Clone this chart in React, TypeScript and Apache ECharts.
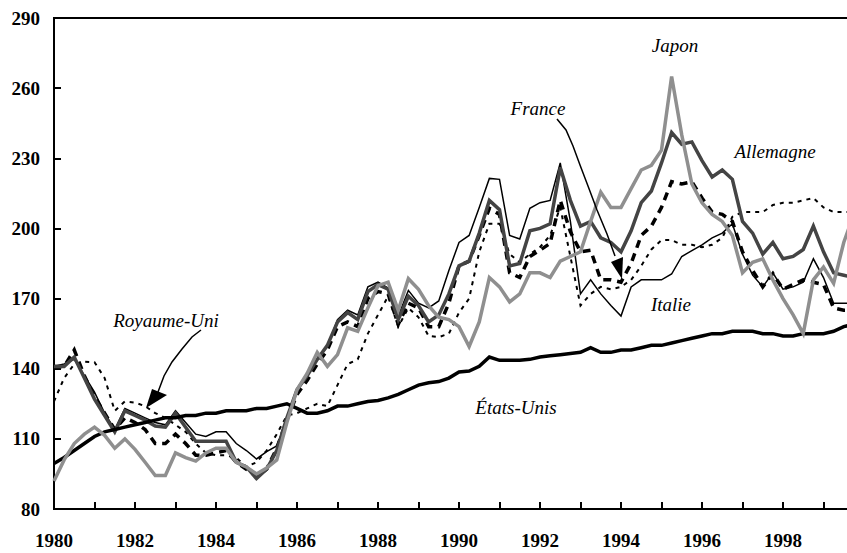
import React, { useEffect, useRef } from "react";
import * as echarts from "echarts";

// Quarterly values, 1980Q1 .. 1999Q4
const START_YEAR = 1980;
const X_MAX = 2000;
const Y_TICKS = { min: 80, max: 290, step: 30 };

const etatsUnis = [
  99.5, 102, 105, 108, 111, 113, 114, 115, 116, 117, 118, 119, 119, 120, 120, 121,
  121, 122, 122, 122, 123, 123, 124, 125, 123, 121, 121, 122, 124, 124, 125, 126,
  126.4, 127.5, 129, 131, 133, 134, 134.5, 136, 138.6, 139, 141, 145, 143.6, 143.6, 143.6, 144,
  145, 145.5, 146, 146.5, 147, 149, 147, 147, 148, 148, 149, 150, 150, 151, 152, 153,
  154, 155, 155, 156, 156, 156, 155, 155, 154, 154, 155, 155, 155, 156, 158, 159,
];
const allemagne = [
  141, 141, 145, 136, 127, 120, 113, 122, 120, 118, 115.5, 115, 121, 115, 109, 109,
  109, 109, 100, 98, 93, 97, 105, 119, 131, 137, 144, 150, 160, 164, 161, 173,
  176, 174, 161, 171, 167, 160, 163, 172, 184, 186, 198, 212, 208, 184, 185, 199,
  200, 202, 226, 212, 201, 203, 196, 194, 190, 199, 211, 216, 228, 241, 236, 237,
  229, 222, 225, 221, 203, 198, 189, 194, 187, 188, 191, 201, 190, 181, 180, 179,
];
const japon = [
  92, 101, 108, 112, 115, 111.5, 106, 110, 105.5, 100, 94.3, 94.3, 104, 102, 100.5, 104,
  106, 106, 100, 98, 95, 97.5, 101, 117, 131, 138, 147, 141, 146, 157.5, 156, 166,
  175.5, 177, 165, 178.5, 174, 167, 162, 161, 158, 149.5, 160, 179, 175, 168.6, 172, 181,
  181, 179, 186, 188, 190, 203, 215.5, 209, 209, 217, 225, 227, 233.5, 265, 240, 219,
  211, 206, 203, 197, 181, 185.5, 187, 178, 170, 163, 155, 178, 183.5, 176.5, 194, 206,
];
const france = [
  141, 141, 148, 137, 128, 121, 114, 119, 117, 114, 108, 108, 112, 108, 103, 103,
  104, 105, 100, 97, 94, 97, 106, 118, 129, 135, 142, 148, 158, 160, 158, 170,
  173, 172, 159, 168, 166, 158, 158, 168, 184, 186, 197, 208.6, 206, 181, 179, 188,
  190.7, 193.6, 212, 198.6, 190, 190.7, 178, 178, 177, 185, 197, 201, 209, 220, 219, 220,
  213, 207, 206, 203, 190, 182, 175, 180.7, 174, 176, 178, 177, 176, 166, 165, 165,
];
const royaumeUni = [
  126, 136, 142, 143, 142.8, 136, 122, 126, 125.5, 124, 121, 119, 116, 113, 108, 104,
  103, 103, 102, 98, 100, 105, 112, 120, 121, 123, 125, 124, 133, 142, 144, 155,
  163, 171, 158, 166, 162, 154, 153.5, 155, 164, 170, 190, 202, 202, 189, 185.5, 189,
  192, 197, 209, 188, 167, 172, 175, 174, 175, 178, 184, 191, 195, 195, 193, 193,
  192, 193, 196, 205, 207, 207, 207, 210, 211, 211, 212, 213, 209, 207, 207, 207,
];
const italie = [
  141, 142, 144, 137, 130, 121, 114, 123, 121, 119, 117, 116, 122, 117, 112, 111,
  113, 113, 108, 105, 101.4, 104.5, 107, 118, 131, 138, 144, 149.5, 161, 165, 163, 175,
  177, 174.5, 162.5, 173.5, 168, 166, 169, 182, 194, 197, 209, 221.4, 221, 197, 195.5, 208.6,
  211, 212, 228, 203, 172, 178, 172, 167, 162.5, 175, 178, 178, 178, 180.5, 188, 190.5,
  193, 196, 198, 202, 189, 180, 175, 181, 174, 175, 177, 187, 179, 168, 168, 168,
];

const toPoints = (vals: number[]) => vals.map((v, i) => [START_YEAR + i / 4, v]);

const SERIF = '"Liberation Serif", "Times New Roman", serif';

export default function App() {
  const ref = useRef<HTMLDivElement>(null);
  useEffect(() => {
    document.body.style.margin = "0";
    if (!ref.current) return;
    const chart = echarts.init(ref.current, undefined, { renderer: "svg" });
    const mkSeries = (name: string, vals: number[], lineStyle: any, z: number) => ({
      name,
      type: "line",
      data: toPoints(vals),
      showSymbol: false,
      symbol: "none",
      z,
      lineStyle: { cap: "butt", join: "miter", ...lineStyle },
      emphasis: { disabled: true },
    });
    const italic = `italic 19px ${SERIF}`;
    const label = (text: string, x: number, y: number) => ({
      type: "text",
      x,
      y,
      z: 100,
      style: { text, font: italic, fill: "#000", textAlign: "center", textVerticalAlign: "middle" },
    });
    chart.setOption({
      animation: false,
      backgroundColor: "#fff",
      grid: {
        left: 54,
        top: 18,
        width: 810,
        height: 491,
        containLabel: false,
        outerBoundsMode: "none",
        show: true,
        borderColor: "#000",
        borderWidth: 2,
      },
      xAxis: {
        type: "value",
        min: START_YEAR,
        max: X_MAX,
        interval: 1,
        splitLine: { show: false },
        axisLine: { show: true, lineStyle: { color: "#000", width: 2 } },
        axisTick: { show: true, inside: true, length: 7, lineStyle: { color: "#000", width: 2 } },
        axisLabel: {
          formatter: (v: number) => (v % 2 === 0 ? String(v) : ""),
          fontFamily: SERIF,
          fontWeight: "bold",
          fontSize: 19,
          color: "#000",
          margin: 22,
          showMaxLabel: false,
        },
      },
      yAxis: {
        type: "value",
        min: Y_TICKS.min,
        max: Y_TICKS.max,
        interval: Y_TICKS.step,
        splitLine: { show: false },
        axisLine: { show: true, lineStyle: { color: "#000", width: 2 } },
        axisTick: { show: true, inside: true, length: 7, lineStyle: { color: "#000", width: 2 } },
        axisLabel: {
          fontFamily: SERIF,
          fontWeight: "bold",
          fontSize: 19,
          color: "#000",
          margin: 14,
        },
      },
      series: [
        mkSeries("Italie", italie, { color: "#000", width: 1.5 }, 2),
        mkSeries("Royaume-Uni", royaumeUni, { color: "#000", width: 2, type: [4, 5] }, 3),
        mkSeries("France", france, { color: "#000", width: 3.5, type: [8, 6] }, 4),
        mkSeries("Allemagne", allemagne, { color: "#444444", width: 3.5 }, 5),
        mkSeries("États-Unis", etatsUnis, { color: "#000", width: 3.5 }, 6),
        mkSeries("Japon", japon, { color: "#8f8f8f", width: 3.5 }, 7),
      ],
      graphic: [
        label("Royaume-Uni", 166, 320),
        label("France", 538, 108),
        label("Japon", 675, 45),
        label("Allemagne", 775, 151),
        label("Italie", 671, 304),
        label("États-Unis", 516, 407),
        {
          type: "polyline",
          z: 100,
          shape: { points: [[201, 330], [192, 337], [182, 349], [172, 362], [164, 376], [158, 392]] },
          style: { stroke: "#000", lineWidth: 1.5, fill: null },
        },
        {
          type: "polygon",
          z: 100,
          shape: { points: [[146, 408], [152, 389], [167, 395]] },
          style: { fill: "#000" },
        },
        {
          type: "polyline",
          z: 100,
          shape: {
            points: [[557, 119], [566, 130], [573, 146], [580, 165], [588, 186], [597, 210], [607, 234], [615, 256]],
          },
          style: { stroke: "#000", lineWidth: 1.5, fill: null },
        },
        {
          type: "polygon",
          z: 100,
          shape: { points: [[622, 279], [611, 262], [623, 257]] },
          style: { fill: "#000" },
        },
      ],
    });
    return () => chart.dispose();
  }, []);
  return <div ref={ref} style={{ width: 847, height: 553 }} />;
}
